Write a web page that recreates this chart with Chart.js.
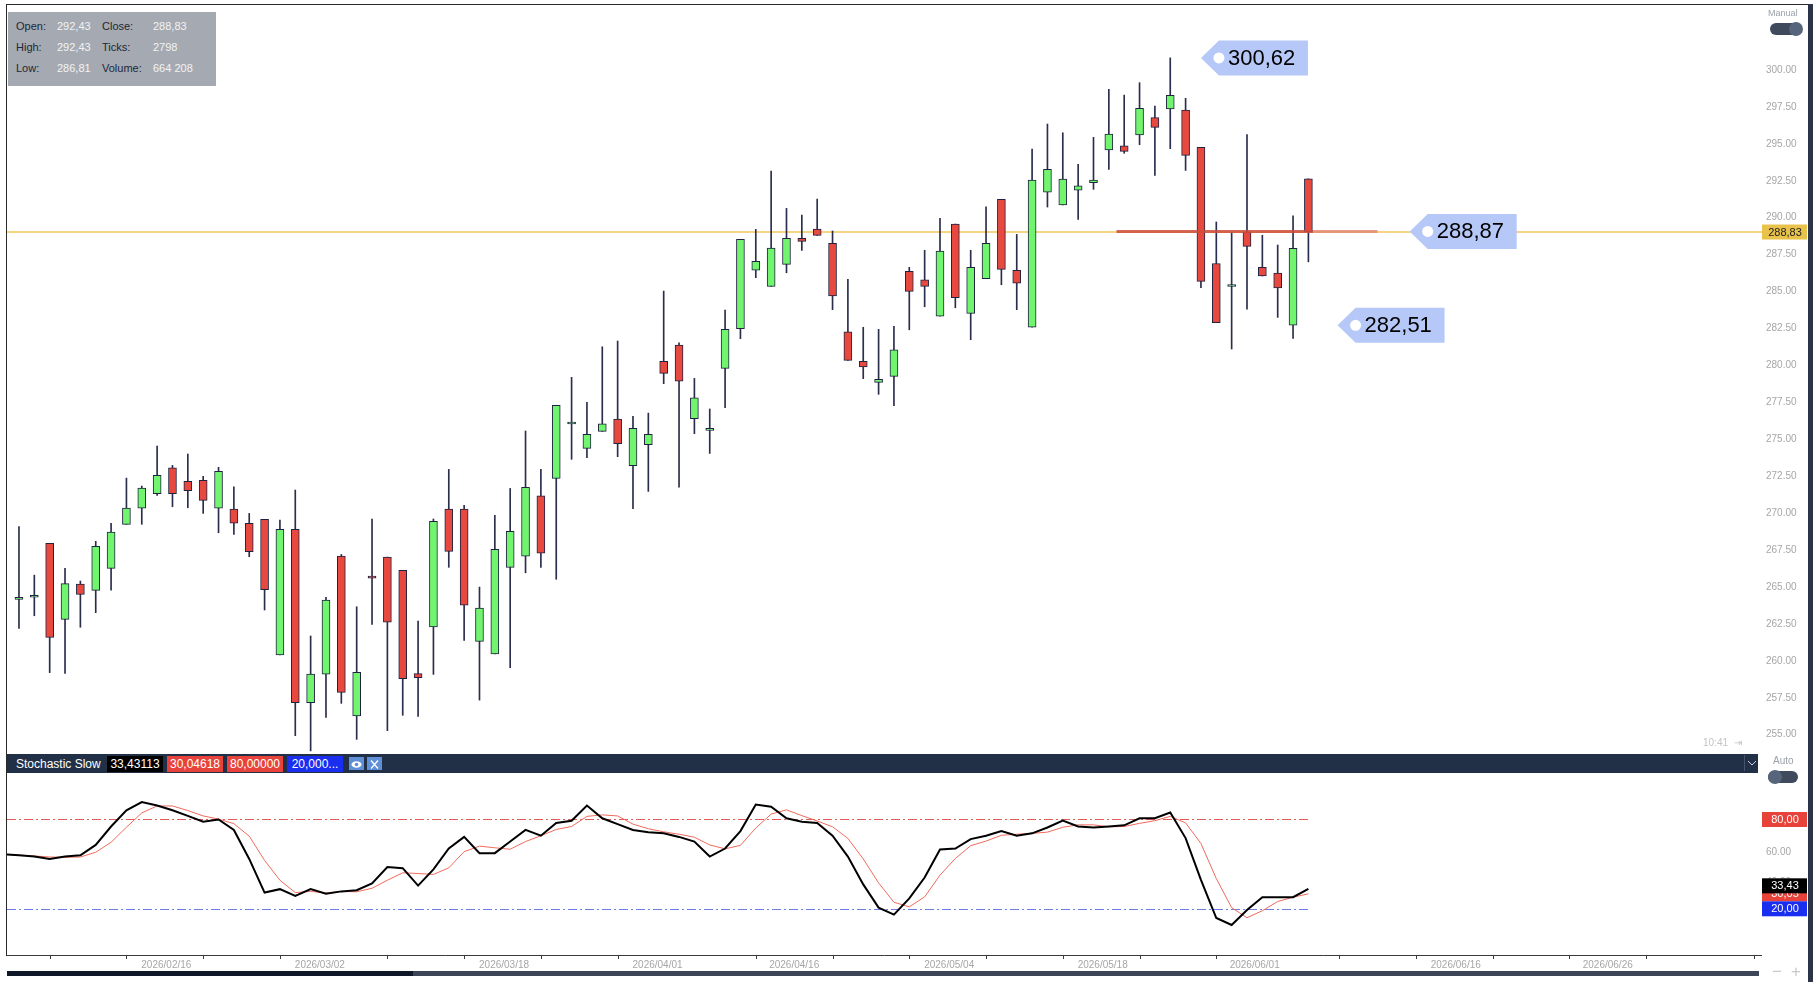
<!DOCTYPE html>
<html>
<head>
<meta charset="utf-8">
<title>Price + Stochastic Slow</title>
<script src="https://cdn.jsdelivr.net/npm/chart.js@4.4.1/dist/chart.umd.min.js"></script>
<style>
    html, body { margin: 0; padding: 0; background: #fff; }
    body { width: 1820px; height: 982px; position: relative; overflow: hidden; font-family: "Liberation Sans", Arial, sans-serif; }
    #priceWrap { position: absolute; left: 7px; top: 5px; width: 1805px; height: 749px; }
    #stochWrap { position: absolute; left: 7px; top: 773px; width: 1805px; height: 209px; }
    .frame { position: absolute; left: 6px; top: 4px; width: 1802px; height: 951px; border-left: 1px solid #2a2a2a; border-top: 1px solid #2a2a2a; pointer-events: none; }
    .side { position: absolute; left: 1808px; top: 4px; width: 5px; height: 978px; background: #2b3547; }

    /* info box */
    #info { position: absolute; left: 8px; top: 12px; width: 208px; height: 74px; background: #a5aab2; font-size: 11px; }
    #info span { position: absolute; line-height: 12px; }
    #info .lb { color: #1d2735; }
    #info .vl { color: #f2f2f2; }

    /* toggles */
    .tgLabel { position: absolute; font-size: 9px; color: #9a9fa8; }
    .tg { position: absolute; width: 32px; height: 12px; border-radius: 6px; background: #3f4a5d; }
    .tg i { position: absolute; top: -1px; width: 14px; height: 14px; border-radius: 7px; background: #56657c; }

    #clock { position: absolute; left: 1703px; top: 737px; font-size: 10px; color: #c4c4c4; }

    /* stochastic header */
    #stHead { position: absolute; left: 7px; top: 754px; width: 1751px; height: 19px; background: #223047; }
    #stHead .name { position: absolute; left: 9px; top: 3px; font-size: 12px; color: #fff; }
    #stHead .val { position: absolute; top: 2px; width: 56px; height: 16px; font-size: 12px; line-height: 16px; color: #fff; text-align: center; overflow: hidden; }
    #stHead .ico { position: absolute; top: 3px; width: 15px; height: 13px; background: #5f8fd6; }
    #stHead .drop { position: absolute; left: 1737px; top: 1px; width: 14px; height: 16px; border-left: 1px solid #46536a; }

    #scrollDark { position: absolute; left: 7px; top: 971px; width: 406px; height: 5px; background: #0e1828; }
    #scrollLite { position: absolute; left: 413px; top: 971px; width: 1346px; height: 5px; background: #3c4658; }
    #zoomBtns { position: absolute; left: 1772px; top: 962px; font-size: 17px; color: #c9c9c9; letter-spacing: 9px; }
</style>
</head>
<body>
<div id="priceWrap"><canvas id="priceChart" width="1805" height="749"></canvas></div>
<div id="stochWrap"><canvas id="stochChart" width="1805" height="209"></canvas></div>

<div class="frame"></div>
<div class="side"></div>

<div id="info"></div>

<div class="tgLabel" style="left:1768px; top:8px;">Manual</div>
<div class="tg" style="left:1770px; top:23px;"><i style="left:19px;"></i></div>
<div id="clock">10:41 &nbsp;&#8677;</div>

<div id="stHead">
    <span class="name">Stochastic Slow</span>
    <span class="val" id="rd0" style="left:100px; background:#000;"></span>
    <span class="val" id="rd1" style="left:160px; background:#e8433a;"></span>
    <span class="val" id="rd2" style="left:220px; background:#e8433a;"></span>
    <span class="val" id="rd3" style="left:280px; background:#1a2ef0;"></span>
    <span class="ico" style="left:342px;">
        <svg width="15" height="13"><ellipse cx="7.5" cy="6.5" rx="5" ry="3.2" fill="#fff"/><circle cx="7.5" cy="6.5" r="1.8" fill="#5f8fd6"/></svg>
    </span>
    <span class="ico" style="left:360px;">
        <svg width="15" height="13"><path d="M4 2.5 L11 10.5 M11 2.5 L4 10.5" stroke="#fff" stroke-width="1.3"/></svg>
    </span>
    <span class="drop">
        <svg width="14" height="16"><path d="M3 6 L7 10 L11 6" stroke="#c8d0dc" stroke-width="1" fill="none"/></svg>
    </span>
</div>
<div class="tgLabel" style="left:1773px; top:755px; font-size:10px;">Auto</div>
<div class="tg" style="left:1768px; top:771px; width:30px;"><i style="left:0px;"></i></div>

<div id="scrollDark"></div>
<div id="scrollLite"></div>
<div id="zoomBtns">&minus;+</div>

<script>
// ===== Daily candles =====
const opens = [
    263.96, 264.10, 267.75, 262.61, 265.00, 264.57, 266.06, 269.04, 270.14, 271.11,
    272.87, 271.95, 272.02, 270.14, 270.07, 269.11, 269.38, 260.19, 268.70, 256.96,
    258.90, 266.89, 256.06, 265.54, 266.82, 265.92, 258.93, 262.09, 270.07, 270.07,
    261.11, 260.26, 266.13, 266.89, 270.97, 272.15, 275.83, 274.18, 275.33, 276.17,
    273.01, 274.43, 280.08, 281.18, 276.19, 275.40, 279.60, 282.28, 286.24, 285.15,
    286.64, 288.40, 289.03, 288.06, 282.08, 280.08, 278.65, 279.06, 286.17, 285.60,
    283.14, 289.37, 283.32, 285.67, 291.04, 286.24, 282.38, 291.52, 290.66, 291.67,
    292.17, 294.38, 294.67, 295.40, 296.57, 297.16, 297.09, 294.56, 286.70, 285.14,
    288.85, 286.44, 286.05, 282.53, 292.43
];
const highs = [
    268.88, 265.60, 267.75, 266.06, 265.20, 267.89, 269.11, 272.17, 271.63, 274.34,
    273.03, 273.80, 272.29, 272.90, 271.58, 269.78, 269.38, 269.33, 271.36, 261.48,
    264.10, 267.00, 263.46, 269.40, 266.82, 265.92, 262.49, 269.40, 272.76, 270.32,
    264.79, 269.65, 271.47, 275.36, 272.76, 277.10, 278.99, 277.30, 281.06, 281.45,
    276.35, 276.57, 284.83, 281.33, 278.92, 276.85, 283.55, 288.33, 289.01, 292.96,
    290.43, 289.98, 291.06, 288.90, 285.63, 282.38, 282.24, 282.44, 286.44, 287.59,
    289.76, 289.37, 287.59, 290.54, 291.04, 288.67, 294.45, 296.14, 295.55, 293.41,
    295.24, 298.49, 298.10, 298.94, 297.36, 300.62, 297.88, 294.56, 289.51, 288.78,
    295.42, 288.61, 287.95, 289.92, 292.43
];
const lows = [
    262.00, 262.85, 259.00, 258.95, 262.07, 263.06, 264.59, 269.04, 269.04, 271.00,
    270.23, 270.16, 269.78, 268.47, 268.36, 266.85, 263.24, 260.19, 254.73, 253.70,
    255.97, 256.92, 254.48, 262.27, 255.07, 256.11, 256.04, 258.88, 266.13, 261.18,
    257.14, 260.26, 259.33, 265.76, 266.13, 265.32, 273.44, 273.55, 275.33, 273.62,
    270.10, 271.27, 278.56, 271.56, 275.18, 273.84, 276.93, 281.61, 285.74, 285.15,
    286.07, 287.59, 288.60, 283.57, 280.14, 278.90, 277.84, 277.07, 282.21, 283.77,
    283.14, 283.70, 281.54, 285.67, 285.26, 283.57, 282.38, 290.52, 290.66, 289.69,
    291.72, 293.07, 294.16, 294.74, 292.67, 294.47, 293.00, 285.06, 282.69, 280.91,
    283.60, 285.85, 283.05, 281.63, 286.81
];
const closes = [
    264.10, 264.10, 261.39, 265.02, 264.30, 267.55, 268.52, 270.14, 271.50, 272.35,
    271.11, 271.31, 270.66, 272.63, 269.11, 267.19, 264.62, 268.70, 256.96, 258.90,
    263.91, 257.66, 259.02, 265.40, 262.42, 258.59, 258.65, 269.24, 267.21, 263.57,
    263.37, 267.35, 268.56, 271.54, 267.08, 277.10, 275.83, 275.13, 275.85, 274.50,
    275.54, 275.13, 279.26, 278.74, 277.61, 275.40, 282.24, 288.33, 286.84, 287.74,
    288.40, 288.20, 288.60, 284.50, 280.14, 279.69, 278.85, 280.86, 284.81, 285.15,
    287.54, 284.38, 286.44, 288.06, 286.30, 285.36, 292.35, 293.07, 292.42, 291.96,
    292.35, 295.46, 294.29, 297.20, 295.92, 298.08, 294.02, 285.49, 282.69, 285.16,
    287.86, 285.85, 285.04, 287.73, 288.83
];

// ===== Stochastic Slow (%K black, %D red), first value is the bar just off-screen =====
const stochStart = -1;
const stochK = [
    56.7,
    55.9, 55.1, 53.5, 55.1, 55.9, 62.9, 75.3, 86.2, 91.7, 89.4,
    86.2, 82.4, 78.5, 80.0, 73.0, 53.5, 30.9, 33.2, 28.6, 33.2,
    30.1, 31.7, 32.5, 37.1, 48.1, 47.3, 35.6, 46.5, 60.5, 68.3,
    57.4, 57.4, 65.2, 73.0, 69.1, 77.7, 79.2, 89.4, 80.8, 76.9,
    73.0, 71.4, 70.7, 68.3, 65.2, 55.1, 60.5, 72.2, 90.1, 88.6,
    80.8, 78.5, 77.7, 69.1, 55.1, 36.4, 20.8, 16.1, 27.0, 41.0,
    59.8, 60.5, 66.8, 69.1, 72.2, 69.1, 70.7, 74.6, 79.2, 75.3,
    74.6, 75.3, 76.1, 80.8, 80.8, 84.7, 67.5, 39.5, 13.8, 9.1,
    19.2, 27.8, 27.8, 27.8, 33.43
];
const stochD = [
    56.6,
    56.0, 55.5, 54.8, 54.6, 54.8, 58.0, 64.7, 74.8, 84.4, 89.1,
    89.1, 86.0, 82.4, 80.3, 77.2, 68.8, 52.5, 39.2, 30.9, 31.7,
    30.6, 31.7, 31.4, 33.8, 39.2, 44.2, 43.7, 43.1, 47.5, 58.4,
    62.1, 61.0, 60.0, 65.2, 69.1, 73.3, 75.3, 82.1, 83.1, 82.4,
    76.9, 73.8, 71.7, 70.1, 68.1, 62.9, 60.3, 62.6, 74.3, 83.6,
    86.5, 82.6, 79.0, 75.1, 67.3, 53.5, 37.4, 24.4, 21.3, 28.0,
    42.6, 53.8, 62.4, 65.5, 69.4, 70.1, 70.7, 71.5, 74.8, 76.4,
    76.4, 75.1, 75.3, 77.4, 79.2, 82.1, 77.7, 63.9, 40.3, 20.8,
    14.0, 18.7, 24.9, 27.8, 30.05
];
const stochLevels = [80, 20];
const stochReadout = ['33,43113', '30,04618', '80,00000', '20,000...'];

// ===== Axis ticks / labels =====
const priceTicks = [255, 257.5, 260, 262.5, 265, 267.5, 270, 272.5, 275, 277.5, 280, 282.5, 285, 287.5, 290, 292.5, 295, 297.5, 300];
const stochTicks = [40, 60];
const dateLabels = ['2026/02/16', '2026/03/02', '2026/03/18', '2026/04/01', '2026/04/16', '2026/05/04', '2026/05/18', '2026/06/01', '2026/06/16', '2026/06/26'];
const dateLabelAt = [9.6, 19.6, 31.6, 41.6, 50.5, 60.6, 70.6, 80.5, 93.6, 103.5];
const weekTicks = [2, 7, 12, 17, 24, 29, 34, 39, 48, 53, 58, 63, 68, 73, 78, 86, 91, 96, 101, 106, 113];

// ===== Marked prices =====
const tagValues = [300.62, 288.87, 282.51];
const tagAt = [77.0, 90.6, 85.9];
const markLine = { value: 288.87, from: 71.5, split: 84.3, to: 88.5 };
const infoLabels = ['Ticks:', 'Volume:'];
const infoValues = ['2798', '664 208'];

// ===== Shared helpers =====
const FONT = '"Liberation Sans", Arial, sans-serif';
Chart.defaults.font.family = FONT;
const X_MIN = -0.78;
const X_MAX = 113.55;
const GREEN = '#71f56f';
const RED = '#e8493f';
const fmt = v => v.toFixed(2).replace('.', ',');
const last = closes.length - 1;
const lastSt = stochK.length - 1;

// keep the plot area flush with the canvas (no label half-height padding)
const noPad = w => s => {
    if (s.isHorizontal()) s.height = w; else s.width = w;
    s.paddingTop = 0; s.paddingBottom = 0; s.paddingLeft = 0; s.paddingRight = 0;
};

function axisBox(ctx, area, y, text, bg, fg) {
    ctx.fillStyle = bg;
    ctx.fillRect(area.right, y - 7.5, 45, 15);
    ctx.fillStyle = fg;
    ctx.font = '11px ' + FONT;
    ctx.textAlign = 'center';
    ctx.textBaseline = 'middle';
    ctx.fillText(text, area.right + 23, y + 0.5);
}

function drawTag(ctx, xTip, yc, text) {
    const w = 89, h = 35, pw = 18;
    ctx.fillStyle = '#b6c8f8';
    ctx.beginPath();
    ctx.moveTo(xTip, yc);
    ctx.lineTo(xTip + pw, yc - h / 2);
    ctx.lineTo(xTip + pw + w, yc - h / 2);
    ctx.lineTo(xTip + pw + w, yc + h / 2);
    ctx.lineTo(xTip + pw, yc + h / 2);
    ctx.closePath();
    ctx.fill();
    ctx.fillStyle = '#fff';
    ctx.beginPath();
    ctx.arc(xTip + pw, yc, 5.5, 0, Math.PI * 2);
    ctx.fill();
    ctx.fillStyle = '#000';
    ctx.font = '22px ' + FONT;
    ctx.textAlign = 'left';
    ctx.textBaseline = 'middle';
    ctx.fillText(text, xTip + pw + 9, yc + 1);
}

// ===== Price pane =====
const pricePlugin = {
    id: 'pricePlugin',
    beforeDatasetsDraw(chart) {
        const { ctx, chartArea: a, scales: { y } } = chart;
        const py = y.getPixelForValue(closes[last]);
        ctx.save();
        ctx.strokeStyle = 'rgba(242,206,110,0.85)';
        ctx.lineWidth = 2;
        ctx.beginPath();
        ctx.moveTo(a.left, py);
        ctx.lineTo(a.right, py);
        ctx.stroke();
        ctx.restore();
    },
    afterDatasetsDraw(chart) {
        const { ctx, scales: { x, y } } = chart;
        const py = y.getPixelForValue(markLine.value);
        ctx.save();
        ctx.lineWidth = 3;
        ctx.strokeStyle = 'rgba(205,78,62,0.85)';
        ctx.beginPath();
        ctx.moveTo(x.getPixelForValue(markLine.from), py);
        ctx.lineTo(x.getPixelForValue(markLine.split), py);
        ctx.stroke();
        ctx.strokeStyle = 'rgba(226,140,118,0.85)';
        ctx.beginPath();
        ctx.moveTo(x.getPixelForValue(markLine.split), py);
        ctx.lineTo(x.getPixelForValue(markLine.to), py);
        ctx.stroke();
        tagValues.forEach((v, i) => drawTag(ctx, x.getPixelForValue(tagAt[i]), y.getPixelForValue(v), fmt(v)));
        ctx.restore();
    },
    afterDraw(chart) {
        const { ctx, chartArea: a, scales: { y } } = chart;
        ctx.save();
        axisBox(ctx, a, y.getPixelForValue(closes[last]), fmt(closes[last]), '#e8c24a', '#1e1e1e');
        ctx.restore();
    }
};

const idx = closes.map((_, i) => i);

new Chart(document.getElementById('priceChart'), {
    type: 'bar',
    data: {
        datasets: [
            {
                data: idx.map(i => ({ x: i, y: [lows[i], highs[i]] })),
                backgroundColor: '#2a2d4b',
                barThickness: 1,
                grouped: false,
                order: 2
            },
            {
                data: idx.map(i => ({ x: i, y: [opens[i], closes[i]] })),
                backgroundColor: idx.map(i => closes[i] >= opens[i] ? GREEN : RED),
                borderColor: '#1f2240',
                borderWidth: 1,
                borderSkipped: false,
                barThickness: 8,
                minBarLength: 2,
                grouped: false,
                order: 1
            }
        ]
    },
    options: {
        responsive: false,
        animation: false,
        layout: { padding: 0 },
        plugins: { legend: { display: false }, tooltip: { enabled: false } },
        scales: {
            x: { type: 'linear', min: X_MIN, max: X_MAX, offset: false, display: false },
            y: {
                position: 'right',
                min: 253.49,
                max: 304.2,
                grid: { display: false, drawTicks: false },
                border: { display: false },
                afterBuildTicks: s => { s.ticks = priceTicks.map(v => ({ value: v })); },
                afterFit: noPad(50),
                ticks: { color: '#a6a6a6', font: { size: 10 }, padding: 4, labelOffset: 3, callback: v => v.toFixed(2) }
            }
        }
    },
    plugins: [pricePlugin]
});

// ===== Stochastic pane =====
const stochPlugin = {
    id: 'stochPlugin',
    beforeDatasetsDraw(chart) {
        const { ctx, chartArea: a, scales: { x, y } } = chart;
        const xEnd = x.getPixelForValue(last);
        ctx.save();
        ctx.lineWidth = 1;
        ctx.setLineDash([9, 3, 2, 3]);
        [['#e25b5b', stochLevels[0]], ['#6d7be2', stochLevels[1]]].forEach(([c, v]) => {
            const py = Math.round(y.getPixelForValue(v)) + 0.5;
            ctx.strokeStyle = c;
            ctx.beginPath();
            ctx.moveTo(a.left, py);
            ctx.lineTo(xEnd, py);
            ctx.stroke();
        });
        ctx.restore();
    },
    afterDraw(chart) {
        const { ctx, chartArea: a, scales: { x, y } } = chart;
        ctx.save();
        // bottom axis line + week marks
        ctx.strokeStyle = '#3a3a3a';
        ctx.lineWidth = 1;
        ctx.beginPath();
        ctx.moveTo(a.left, a.bottom + 0.5);
        ctx.lineTo(a.right, a.bottom + 0.5);
        weekTicks.forEach(t => {
            const px = Math.round(x.getPixelForValue(t)) + 0.5;
            ctx.moveTo(px, a.bottom);
            ctx.lineTo(px, a.bottom + 4);
        });
        ctx.stroke();
        // value boxes on the right axis
        axisBox(ctx, a, y.getPixelForValue(stochLevels[0]), fmt(stochLevels[0]), '#e8433a', '#fff');
        axisBox(ctx, a, y.getPixelForValue(stochD[lastSt]), fmt(stochD[lastSt]), '#e8433a', '#fff');
        axisBox(ctx, a, y.getPixelForValue(stochLevels[1]), fmt(stochLevels[1]), '#1a2ef0', '#fff');
        axisBox(ctx, a, y.getPixelForValue(stochK[lastSt]) - 3, fmt(stochK[lastSt]), '#000', '#fff');
        ctx.restore();
    }
};

new Chart(document.getElementById('stochChart'), {
    type: 'line',
    data: {
        datasets: [
            { data: stochK.map((v, i) => ({ x: i + stochStart, y: v })), borderColor: '#000', borderWidth: 2, pointRadius: 0, tension: 0, order: 1 },
            { data: stochD.map((v, i) => ({ x: i + stochStart, y: v })), borderColor: '#f06a5c', borderWidth: 1, pointRadius: 0, tension: 0, order: 2 }
        ]
    },
    options: {
        responsive: false,
        animation: false,
        layout: { padding: 0 },
        plugins: { legend: { display: false }, tooltip: { enabled: false } },
        scales: {
            x: {
                type: 'linear',
                min: X_MIN,
                max: X_MAX,
                offset: false,
                grid: { display: false, drawTicks: false },
                border: { display: false },
                afterBuildTicks: s => { s.ticks = dateLabelAt.map(v => ({ value: v })); },
                afterFit: noPad(27),
                ticks: { autoSkip: false, maxRotation: 0, padding: 4, color: '#a6a6a6', font: { size: 10 }, callback: (v, i) => dateLabels[i] }
            },
            y: {
                position: 'right',
                min: -11.04,
                max: 111.24,
                grid: { display: false, drawTicks: false },
                border: { display: false },
                afterBuildTicks: s => { s.ticks = stochTicks.map(v => ({ value: v })); },
                afterFit: noPad(50),
                ticks: { color: '#a6a6a6', font: { size: 10 }, padding: 4, labelOffset: 3, callback: v => v.toFixed(2) }
            }
        }
    },
    plugins: [stochPlugin]
});

// ===== Info box + header readouts =====
const info = document.getElementById('info');
const rows = [
    ['Open:', fmt(opens[last]), 'Close:', fmt(closes[last])],
    ['High:', fmt(highs[last]), infoLabels[0], infoValues[0]],
    ['Low:', fmt(lows[last]), infoLabels[1], infoValues[1]]
];
rows.forEach((r, k) => {
    const top = 8 + k * 21;
    info.insertAdjacentHTML('beforeend',
        `<span class="lb" style="left:8px;top:${top}px">${r[0]}</span>` +
        `<span class="vl" style="left:49px;top:${top}px">${r[1]}</span>` +
        `<span class="lb" style="left:94px;top:${top}px">${r[2]}</span>` +
        `<span class="vl" style="left:145px;top:${top}px">${r[3]}</span>`);
});
stochReadout.forEach((t, i) => { document.getElementById('rd' + i).textContent = t; });
</script>
</body>
</html>
